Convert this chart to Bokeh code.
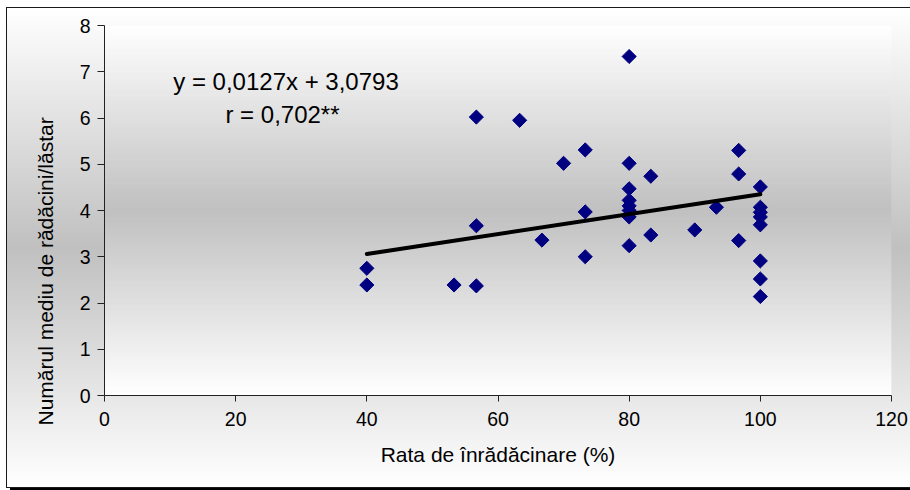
import numpy as np
from bokeh.plotting import figure
from bokeh.models import BoxAnnotation, Label, FixedTicker, ColumnDataSource, Range1d, Title
from bokeh.embed import file_html
from bokeh.resources import INLINE

# Rooting rate (%) and mean number of roots per shoot, one entry per clone
rooting_rate = [40, 40, 53.3, 56.7, 56.7, 56.7, 63.3, 66.7, 70, 73.3, 73.3, 73.3,
                80, 80, 80, 80, 80, 80, 80, 80, 83.3, 83.3, 90, 93.3,
                96.7, 96.7, 96.7,
                100, 100, 100, 100, 100, 100, 100, 100]
roots_per_shoot = [2.75, 2.39, 2.39, 2.37, 3.67, 6.02, 5.95, 3.36, 5.02, 5.31, 3.97, 3.00,
                   7.33, 5.02, 4.47, 4.22, 4.10, 4.00, 3.86, 3.24, 4.74, 3.47, 3.58, 4.07,
                   5.30, 4.79, 3.35,
                   4.51, 4.07, 3.96, 3.86, 3.69, 2.91, 2.52, 2.14]

# Linear trend line (end points)
trend_x = [40, 100]
trend_y = [3.06, 4.35]

x_ticks = [0, 20, 40, 60, 80, 100, 120]
y_ticks = [0, 1, 2, 3, 4, 5, 6, 7, 8]

equation_text = "y = 0,0127x + 3,0793"
r_text = "r = 0,702**"
x_title = "Rata de înrădăcinare (%)"
y_title = "Numărul mediu de rădăcini/lăstar"

FONT = "Liberation Sans"

# chart box placed at (7, 8) on the page; plot area 104..891 x 25..395 on the page
BOX_L, BOX_T = 7, 8
W, H = 903, 479
FL, FR, FT, FB = 104 - BOX_L, 891 - BOX_L, 25 - BOX_T, 395 - BOX_T
X0, X1, Y0, Y1 = 0, 120, 0, 8


def to_y(py):
    return Y0 + (FB - py) * (Y1 - Y0) / (FB - FT)


def grey(t):
    v = int(round(192 + (255 - 192) * min(1.0, t)))
    return "#%02x%02x%02x" % (v, v, v)


p = figure(width=W, height=H, output_backend="svg", toolbar_location=None,
           x_range=Range1d(X0, X1), y_range=Range1d(Y0, Y1),
           min_border_left=FL, min_border_right=W - FR,
           min_border_top=FT, min_border_bottom=H - FB,
           margin=(BOX_T, 0, 0, BOX_L))
# chart area: vertical white-grey-white fill with a thin frame and drop shadow
p.border_fill_alpha = 0
p.background_fill_alpha = 0
p.styles = {
    "background": "linear-gradient(to bottom, #ffffff 0%, #c0c0c0 50%, #ffffff 100%)",
    "outline": "1.5px solid #1a1a1a",
    "box-shadow": "3px 3px 0 0 #000000",
}
p.outline_line_color = None
p.xgrid.visible = False
p.ygrid.visible = False

# plot area fill
pmid = (FT + FB) / 2
phalf = (FB - FT) / 2
for py in range(FT, FB, 2):
    c = grey(abs(py + 1 - pmid) / phalf)
    p.add_layout(BoxAnnotation(left=X0, right=X1,
                               top=to_y(py), bottom=to_y(min(py + 3, FB)),
                               fill_color=c, fill_alpha=1, line_color=None,
                               level="underlay"))

src = ColumnDataSource(dict(x=rooting_rate, y=roots_per_shoot))
p.scatter(x="x", y="y", source=src, marker="square", size=10, angle=np.pi / 4,
          fill_color="#000080", line_color="#000080", line_width=1)
p.line(trend_x, trend_y, line_color="black", line_width=4, line_cap="round")

# axes
for ax in (p.xaxis[0], p.yaxis[0]):
    ax.axis_line_color = "#222222"
    ax.major_tick_line_color = "#222222"
    ax.major_tick_in = 0
    ax.minor_tick_in = 0
    ax.minor_tick_out = 0
    ax.major_label_text_font = FONT
    ax.major_label_text_font_size = "19.5px"
    ax.major_label_text_color = "black"

p.xaxis.ticker = FixedTicker(ticks=x_ticks)
p.yaxis.ticker = FixedTicker(ticks=y_ticks)
p.xaxis.major_tick_out = 6
p.xaxis.major_label_standoff = 10
p.yaxis.major_tick_out = 7
p.yaxis.major_label_standoff = 7

p.xaxis.axis_label = x_title
p.xaxis.axis_label_text_font = FONT
p.xaxis.axis_label_text_font_size = "21px"
p.xaxis.axis_label_text_font_style = "normal"
p.xaxis.axis_label_text_color = "black"
p.xaxis.axis_label_standoff = 14

p.add_layout(Title(text=y_title, align="left", offset=-30, standoff=39,
                   text_font=FONT, text_font_size="21px",
                   text_font_style="normal", text_color="black"), "left")

# regression annotation
p.add_layout(Label(x=285.5 - BOX_L, y=81 - BOX_T, x_units="canvas", y_units="canvas",
                   text=equation_text,
                   text_font=FONT, text_font_size="24px", text_color="black",
                   text_align="center", text_baseline="middle"))
p.add_layout(Label(x=282 - BOX_L, y=114 - BOX_T, x_units="canvas", y_units="canvas",
                   text=r_text,
                   text_font=FONT, text_font_size="24px", text_color="black",
                   text_align="center", text_baseline="middle"))

open("out.html", "w").write(file_html(p, INLINE, title="Rata de înrădăcinare"))
